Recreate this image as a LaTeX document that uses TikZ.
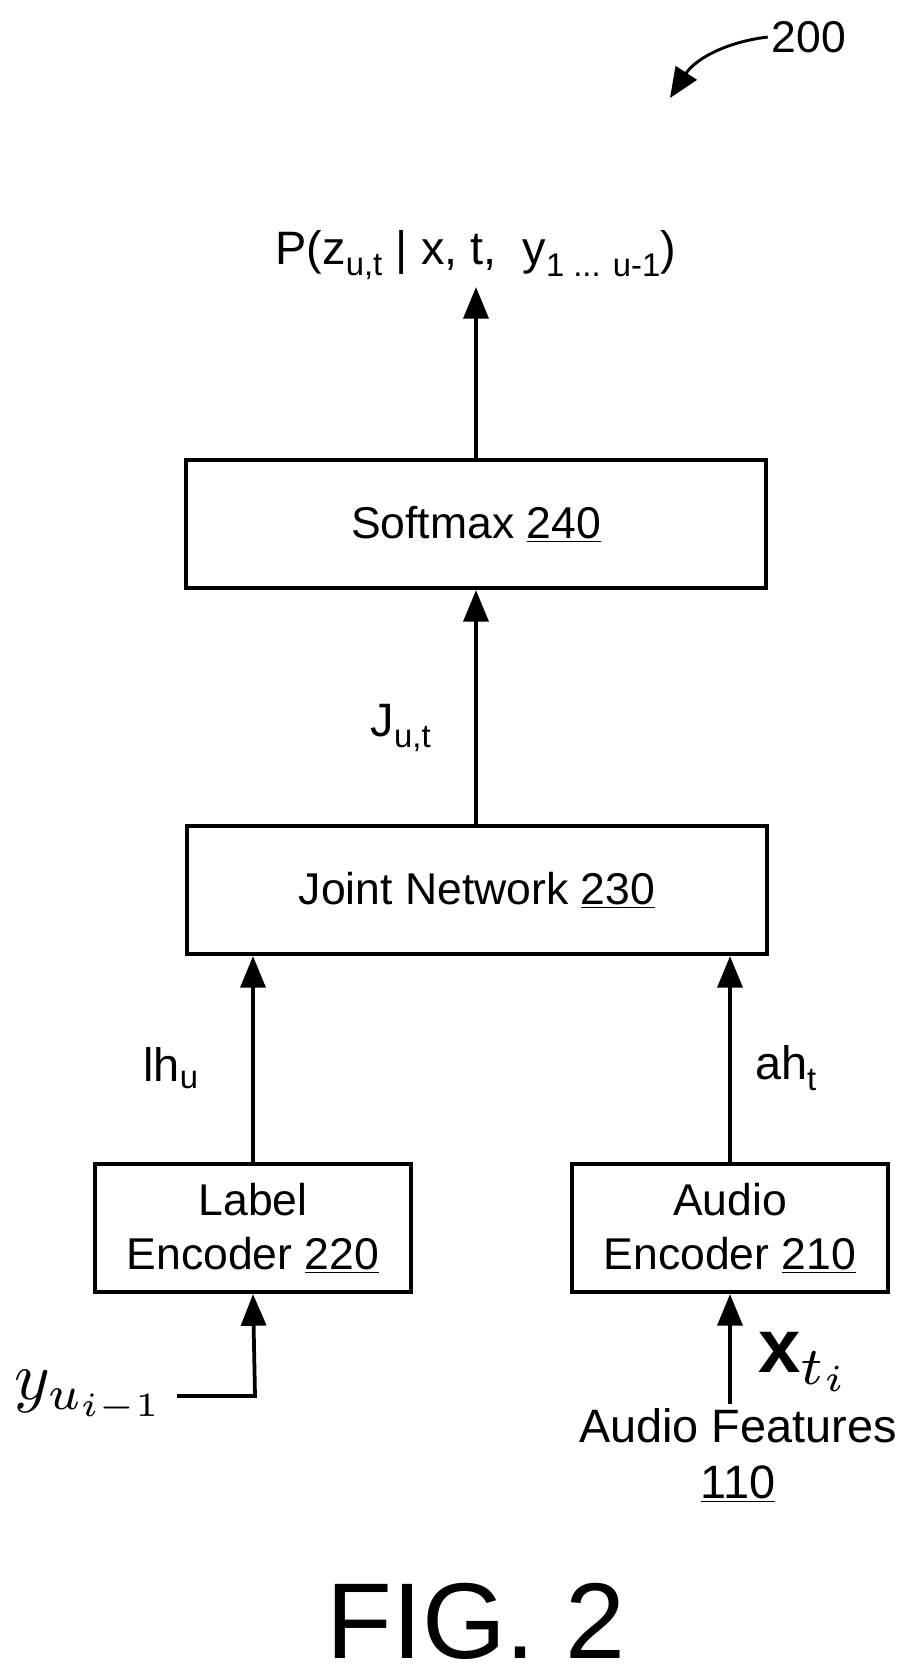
\documentclass[tikz,border=0pt]{standalone}
\usepackage{fontspec}
\setmainfont{Liberation Sans}
\usepackage{graphicx}
\usetikzlibrary{arrows.meta}

\tikzset{%
  every block/.style={
    draw,
    line width=3.2pt,
    align=center,
    font=\fontsize{38}{46}\selectfont
  },
  wide block/.style={minimum width=17.4cm, minimum height=3.85cm},
  small block/.style={minimum width=9.5cm, minimum height=3.85cm},
  flow/.style={line width=3.2pt, -{Triangle[length=0.95cm, width=0.75cm]}},
  big label/.style={font=\fontsize{40}{48}\selectfont},
}

\begin{document}
\begin{tikzpicture}[x=0.03cm, y=-0.03cm]
\useasboundingbox (0,0) rectangle (913,1679);

\node [every block, wide block] (softmax) at (476,524) {Softmax \underline{240}};
\node [every block, wide block] (joint) at (477,890) {Joint Network \underline{230}};
\node [every block, small block] (label-enc) at (253,1228) {Label\\Encoder \underline{220}};
\node [every block, small block] (audio-enc) at (730,1228) {Audio\\Encoder \underline{210}};

\node [big label] (prob) at (476,255) {P(z\textsubscript{u,t} | x, t,\ \ y\textsubscript{1 ... u-1})};
\coordinate (prob-in) at (476,287);

\node [big label] (jut) at (401,728) {J\textsubscript{u,t}};
\node [big label] (lhu) at (171,1068) {lh\textsubscript{u}};
\node [big label] (aht) at (786,1068) {ah\textsubscript{t}};

\node (yin) at (90,1396) {\scalebox{5.8}{$y_{u_{i-1}}$}};
\coordinate (yin-end) at (177,1396);
\coordinate (yin-corner) at (255,1396);

\node (xin) at (805,1362) {\scalebox{6.5}{$\mathbf{x}_{t_i}$}};
\node [big label, align=center] (features) at (738,1455) {Audio Features\\\underline{110}};

\node [font=\fontsize{92}{104}\selectfont] (fig) at (476,1621) {FIG. 2};
\node [font=\fontsize{38}{46}\selectfont] (ref) at (809,37) {200};
\coordinate (ref-tip) at (670,98);

\draw [flow] (softmax.north -| prob-in) -- (prob-in);
\draw [flow] (joint.north -| softmax) -- (softmax.south);
\draw [flow] (label-enc.north) -- (label-enc.north |- joint.south);
\draw [flow] (audio-enc.north) -- (audio-enc.north |- joint.south);
\draw [flow] (yin-end) -- (yin-corner) -- (label-enc.south);
\draw [flow] (features.north -| audio-enc) -- (audio-enc.south);
\draw [line width=2.5pt, -{Triangle[length=0.9cm, width=0.75cm]}]
  (ref.west) to [bend right=25] (ref-tip);
\end{tikzpicture}
\end{document}
